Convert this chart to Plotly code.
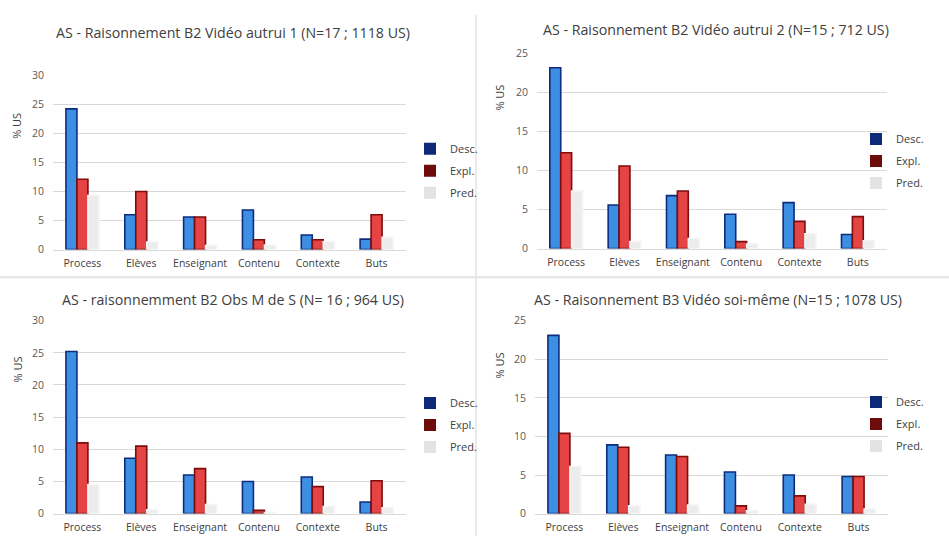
import plotly.graph_objects as go

categories = ["Process", "Elèves", "Enseignant", "Contenu", "Contexte", "Buts"]
series_names = ["Desc.", "Expl.", "Pred."]

titles = [
    "AS - Raisonnement B2 Vidéo autrui 1 (N=17 ; 1118 US)",
    "AS - Raisonnement B2 Vidéo autrui 2 (N=15 ; 712 US)",
    "AS - raisonnemment B2 Obs M de S (N= 16 ; 964 US)",
    "AS - Raisonnement B3 Vidéo soi-même (N=15 ; 1078 US)",
]

# panel 1
p1_desc = [24.2, 6.0, 5.6, 6.8, 2.5, 1.8]
p1_expl = [12.1, 10.0, 5.6, 1.7, 1.7, 6.0]
p1_pred = [9.3, 1.3, 0.7, 0.8, 1.4, 2.1]
# panel 2
p2_desc = [23.2, 5.6, 6.8, 4.4, 5.9, 1.8]
p2_expl = [12.3, 10.6, 7.4, 0.9, 3.5, 4.1]
p2_pred = [7.4, 0.9, 1.3, 0.6, 1.9, 1.0]
# panel 3
p3_desc = [25.2, 8.6, 6.0, 5.0, 5.7, 1.8]
p3_expl = [11.0, 10.5, 7.0, 0.5, 4.2, 5.1]
p3_pred = [4.5, 0.6, 1.4, 0.15, 1.1, 0.9]
# panel 4
p4_desc = [23.1, 8.9, 7.6, 5.4, 5.0, 4.8]
p4_expl = [10.4, 8.6, 7.4, 1.0, 2.3, 4.8]
p4_pred = [6.1, 1.0, 1.1, 0.35, 1.2, 0.6]

y_max = [30, 25, 30, 25]
y_ticks = [[0, 5, 10, 15, 20, 25, 30], [0, 5, 10, 15, 20, 25],
           [0, 5, 10, 15, 20, 25, 30], [0, 5, 10, 15, 20, 25]]

panels = [
    (p1_desc, p1_expl, p1_pred),
    (p2_desc, p2_expl, p2_pred),
    (p3_desc, p3_expl, p3_pred),
    (p4_desc, p4_expl, p4_pred),
]

W, H = 949, 543
FONT = "Open Sans"

fill_cols = ["#3d8fe3", "#e54444", "#ececec"]
edge_cols = ["#0e2c7e", "#7d0c0c", "#f4f4f4"]
legend_cols = ["#0d2a78", "#6e0b0b", "#e3e3e3"]
groups = ["d", "e", "p"]

# pixel layout (left, right, top, bottom) of each plot area
areas = [
    (53, 406, 70, 249),
    (537, 887, 48, 248),
    (53, 406, 322, 520),
    (535, 888, 322, 520),
]
title_pos = [(233, 26), (716, 23), (233, 300), (718, 300)]
ytitle_pos = [(17, 122), (500, 93), (17, 372), (500, 368)]
legend_pos = [(410, 168), (856, 158), (410, 429), (856, 428)]

fig = go.Figure()
layout = dict(
    width=W, height=H,
    margin=dict(l=0, r=0, t=0, b=0),
    paper_bgcolor="white", plot_bgcolor="white",
    barmode="group", bargap=0.44, bargroupgap=0.0,
    font=dict(family=FONT, color="#404040"),
)
annotations = []
shapes = []

for i, (vals, ar) in enumerate(zip(panels, areas)):
    k = "" if i == 0 else str(i + 1)
    xa, ya = "x" + k, "y" + k
    lg = "legend" + k
    for j, name in enumerate(series_names):
        fig.add_trace(go.Bar(
            x=categories, y=vals[j], name=name, xaxis=xa, yaxis=ya,
            offsetgroup=groups[j],
            marker=dict(color=fill_cols[j], line=dict(color=edge_cols[j], width=1.6)),
            showlegend=False, legend=lg,
        ))
    for j, name in enumerate(series_names):
        fig.add_trace(go.Bar(
            x=[None], y=[None], name=name, xaxis=xa, yaxis=ya,
            offsetgroup=groups[j], legendgroup=f"{lg}_{j}",
            marker=dict(color=legend_cols[j], line=dict(color=legend_cols[j], width=0)),
            showlegend=True, legend=lg,
        ))
    l, r, t, b = ar
    layout["xaxis" + k] = dict(
        domain=[l / W, r / W], anchor=ya,
        showline=True, linecolor="#d9d9d9", linewidth=1,
        showgrid=False, ticks="", tickfont=dict(size=10.5, color="#404040", family=FONT),
        ticklabelstandoff=4, fixedrange=True,
    )
    layout["yaxis" + k] = dict(
        domain=[1 - b / H, 1 - t / H], anchor=xa,
        range=[0, y_max[i]], tickvals=y_ticks[i],
        showgrid=True, gridcolor="#d9d9d9", gridwidth=1,
        zeroline=False, showline=False, ticks="",
        tickfont=dict(size=10.5, color="#595959", family=FONT),
        ticklabelstandoff=8, fixedrange=True,
    )
    lx, ly = legend_pos[i]
    layout[lg] = dict(
        x=lx / W, y=1 - ly / H, xanchor="left", yanchor="middle",
        font=dict(size=11, color="#404040", family=FONT),
        bgcolor="rgba(0,0,0,0)", itemwidth=30, tracegroupgap=3,
    )
    tx, ty = title_pos[i]
    annotations.append(dict(
        text=titles[i], x=tx / W, y=1 - ty / H, xref="paper", yref="paper",
        showarrow=False, xanchor="center", yanchor="middle",
        font=dict(size=14.2, color="#404040", family=FONT),
    ))
    ax_, ay_ = ytitle_pos[i]
    annotations.append(dict(
        text="% US", x=ax_ / W, y=1 - ay_ / H, xref="paper", yref="paper",
        showarrow=False, xanchor="center", yanchor="middle", textangle=-90,
        font=dict(size=11, color="#404040", family=FONT),
    ))

# panel separators
shapes.append(dict(type="line", xref="paper", yref="paper",
                   x0=0, x1=1, y0=1 - 277.5 / H, y1=1 - 277.5 / H,
                   line=dict(color="#e3e3e3", width=2)))
shapes.append(dict(type="line", xref="paper", yref="paper",
                   x0=476 / W, x1=476 / W, y0=0, y1=1 - 8 / H,
                   line=dict(color="#e3e3e3", width=1.5)))

layout["annotations"] = annotations
layout["shapes"] = shapes
fig.update_layout(**layout)
fig.write_html("out.html", config={"displayModeBar": False},
               post_script="document.body.style.margin='0';document.body.style.padding='0';")
